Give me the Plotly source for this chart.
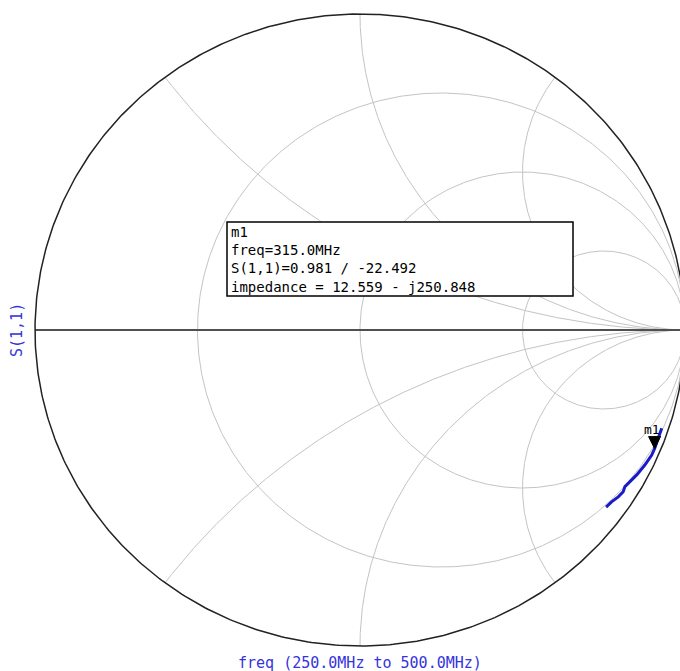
import numpy as np
import plotly.graph_objects as go

# ---- data -------------------------------------------------------------
freq_mhz = [250, 280, 315, 335, 355, 375, 395, 415, 430, 450, 475, 500]
s11_mag = [0.979, 0.980, 0.981, 0.981, 0.975, 0.967, 0.959, 0.954, 0.958, 0.954, 0.946, 0.942]
s11_deg = [-18.5, -20.4, -22.492, -23.8, -26.0, -28.3, -30.0, -31.3, -32.3, -33.6, -35.1, -36.5]

# Smith chart grid values (normalised resistance / reactance)
resistance_grid = [1 / 3, 1, 3]
reactance_grid = [0.5, 1, 2]

# marker readout
marker_name = "m1"
marker_freq_mhz = 315.0
marker_mag = 0.981
marker_deg = -22.492
marker_z = (12.559, -250.848)
sweep_label = "freq (250.0MHz to 500.0MHz)"
trace_label = "S(1,1)"

# ---- page geometry ----------------------------------------------------
W, H = 680, 671
CX, CY = 360.0, 330.0      # pixel of the chart centre
SX, SY = 325.0, 316.0      # pixels per unit reflection coefficient

GRID = "#c4c4c4"
BLUE_LINE = "#1a1ac8"
BLUE_TEXT = "#3434dc"
MONO = "DejaVu Sans Mono"

fig = go.Figure()


def add_line(x, y, color, width):
    fig.add_trace(go.Scatter(x=x, y=y, mode="lines",
                             line=dict(color=color, width=width),
                             hoverinfo="skip", showlegend=False))


# constant-resistance circles
t = np.linspace(0, 2 * np.pi, 600)
for r in resistance_grid:
    c, rad = r / (1 + r), 1 / (1 + r)
    add_line(c + rad * np.cos(t), rad * np.sin(t), GRID, 1)

# constant-reactance arcs (portion inside the unit circle)
for xv in reactance_grid:
    rad = 1 / xv
    ex = -2 / (xv ** 2 + 1)
    ey = (xv ** 2 - 1) / (xv * (xv ** 2 + 1))
    phi = np.arctan2(ey, ex)
    if phi > -np.pi / 2:
        phi -= 2 * np.pi
    a = np.linspace(-np.pi / 2, phi, 400)
    ax_ = 1 + rad * np.cos(a)
    ay_ = rad + rad * np.sin(a)
    add_line(ax_, ay_, GRID, 1)
    add_line(ax_, -ay_, GRID, 1)

# real axis and outer boundary
add_line([-1, 1], [0, 0], "#505050", 2)
add_line(np.cos(t), np.sin(t), "#222222", 1.5)

# S11 sweep
g = np.array(s11_mag) * np.exp(1j * np.deg2rad(s11_deg))
fig.add_trace(go.Scatter(x=g.real, y=g.imag, mode="lines",
                         line=dict(color=BLUE_LINE, width=3),
                         customdata=freq_mhz, hoverinfo="skip",
                         showlegend=False))

# marker position
gm = marker_mag * np.exp(1j * np.deg2rad(marker_deg))
fig.add_shape(type="path", xref="x", yref="y",
              xsizemode="pixel", ysizemode="pixel",
              xanchor=gm.real, yanchor=gm.imag,
              path="M -6,12 L 6,12 L 0,0 Z",
              fillcolor="black", line=dict(color="black", width=1))
fig.add_annotation(x=gm.real, y=gm.imag, xref="x", yref="y",
                   text=marker_name, showarrow=False,
                   xshift=-3, yshift=19,
                   font=dict(family=MONO, size=13, color="black"))


def px(xp):
    return xp / W


def py(yp):
    return 1 - yp / H


# marker readout box
fig.add_shape(type="rect", xref="paper", yref="paper",
              x0=px(227), x1=px(573), y0=py(296), y1=py(222),
              fillcolor="white", line=dict(color="black", width=1.5))
readout = [
    marker_name,
    f"freq={marker_freq_mhz:.1f}MHz",
    f"S(1,1)={marker_mag:.3f} / {marker_deg:.3f}",
    f"impedance = {marker_z[0]:.3f} - j{abs(marker_z[1]):.3f}",
]
fig.add_annotation(x=px(230), y=py(259), xref="paper", yref="paper",
                   xanchor="left", yanchor="middle", align="left",
                   text="<br>".join(readout), showarrow=False, borderpad=0,
                   font=dict(family=MONO, size=14, color="black"))

# axis captions
fig.add_annotation(x=px(360), y=py(663), xref="paper", yref="paper",
                   text=sweep_label, showarrow=False,
                   xanchor="center", yanchor="middle",
                   font=dict(family=MONO, size=15, color=BLUE_TEXT))
fig.add_annotation(x=px(17), y=py(330), xref="paper", yref="paper",
                   text=trace_label, showarrow=False, textangle=-90,
                   xanchor="center", yanchor="middle",
                   font=dict(family=MONO, size=15, color=BLUE_TEXT))

fig.update_layout(
    width=W, height=H,
    margin=dict(l=0, r=0, t=0, b=0),
    paper_bgcolor="white", plot_bgcolor="white",
    xaxis=dict(range=[-CX / SX, (W - CX) / SX], visible=False,
               domain=[0, 1], fixedrange=True),
    yaxis=dict(range=[-(H - CY) / SY, CY / SY], visible=False,
               domain=[0, 1], fixedrange=True),
    showlegend=False,
)

fig.write_html("out.html", config={"displayModeBar": False})
